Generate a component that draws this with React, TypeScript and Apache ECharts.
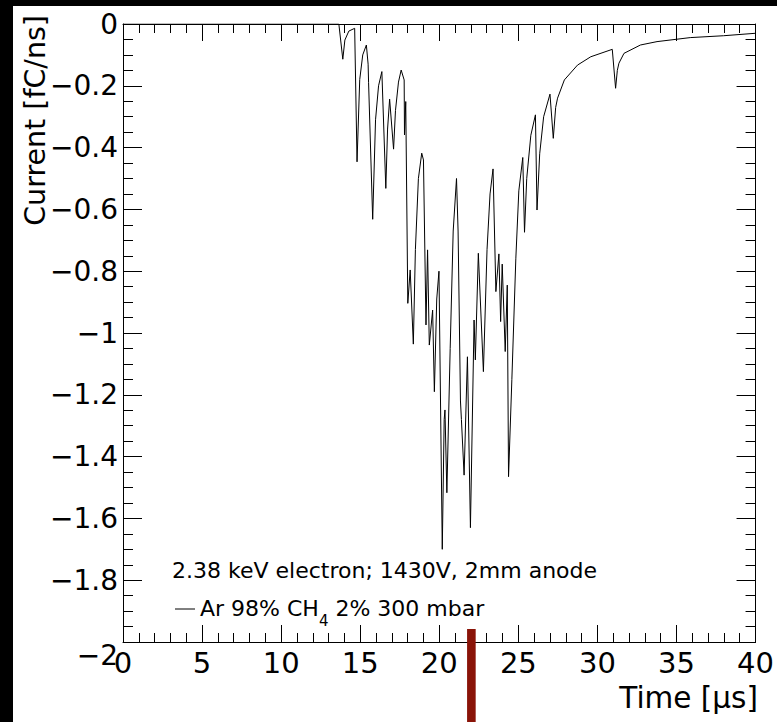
import React, { useEffect, useRef } from "react";
import * as echarts from "echarts";

// Time axis values [µs]
const timeUs = [
  0, 13.65, 13.9, 14.03, 14.28, 14.65, 14.8, 14.97, 15.16, 15.39, 15.5, 15.53,
  15.79, 15.97, 16.16, 16.37, 16.62, 16.73, 16.86, 17.11, 17.23, 17.42, 17.59,
  17.78, 17.8, 17.88, 18.01, 18.16, 18.36, 18.49, 18.68, 18.89, 19.0, 19.16,
  19.26, 19.37, 19.58, 19.69, 19.84, 19.98, 20.19, 20.31, 20.36, 20.48, 20.69,
  20.88, 21.09, 21.19, 21.34, 21.4, 21.57, 21.78, 21.97, 22.2, 22.28, 22.47,
  22.79, 23.02, 23.21, 23.4, 23.58, 23.77, 23.88, 23.98, 24.17, 24.3, 24.38,
  24.59, 24.84, 25.03, 25.28, 25.39, 25.53, 25.79, 26.08, 26.18, 26.35, 26.6,
  27.0, 27.21, 27.36, 27.48, 27.91, 28.74, 29.58, 30.94, 31.15, 31.26, 31.36,
  31.68, 32.72, 33.77, 35.87, 37.97, 40.0,
];

// Current values [fC/ns]
const currentFcNs = [
  0, 0, -0.114, -0.052, -0.023, -0.014, -0.446, -0.18, -0.1, -0.068, -0.13,
  -0.19, -0.632, -0.31, -0.2, -0.154, -0.532, -0.34, -0.243, -0.405, -0.28,
  -0.188, -0.149, -0.181, -0.359, -0.251, -0.904, -0.796, -1.036, -0.73, -0.5,
  -0.418, -0.44, -0.974, -0.731, -1.039, -0.926, -1.19, -0.89, -0.8, -1.7,
  -1.28, -1.249, -1.517, -1.05, -0.67, -0.5, -0.67, -1.22, -1.28, -1.46,
  -1.077, -1.63, -0.958, -1.087, -0.742, -1.125, -0.73, -0.55, -0.469, -0.866,
  -0.744, -0.963, -0.777, -1.06, -0.845, -1.465, -1.15, -0.76, -0.54, -0.432,
  -0.674, -0.5, -0.36, -0.294, -0.602, -0.42, -0.3, -0.227, -0.37, -0.27,
  -0.24, -0.181, -0.133, -0.106, -0.082, -0.208, -0.15, -0.127, -0.095,
  -0.068, -0.057, -0.044, -0.038, -0.03,
];

const xRange = [0, 40];
const xInterval = 5;
const yRange = [-2, 0];
const yInterval = 0.2;

const seriesName = "Ar 98% CH4 2% 300 mbar";
const legendRich = "{a|Ar 98% CH}{s|4}{a| 2% 300 mbar}";
const annotationText = "2.38 keV electron; 1430V, 2mm anode";
const xTitle = "Time [\u03bcs]";
const yTitle = "Current [fC/ns]";

// red marker bar (time, current at its top)
const markerTime = 22.03;
const markerCurrent = -1.958;

const FONT = "'DejaVu Sans', 'Liberation Sans', Arial, sans-serif";

export default function App() {
  const ref = useRef<HTMLDivElement>(null);

  useEffect(() => {
    if (!ref.current) return;
    const chart = echarts.init(ref.current, null, { renderer: "svg" });
    const data = timeUs.map((t, i) => [t, currentFcNs[i]]);

    const line = { color: "#000", width: 1 };
    const xBase = {
      type: "value",
      min: xRange[0],
      max: xRange[1],
      interval: xInterval,
      axisLine: { show: true, onZero: false, lineStyle: line },
      axisTick: { show: true, inside: true, length: 17, lineStyle: line },
      minorTick: { show: true, splitNumber: 5, length: 9, lineStyle: line },
      splitLine: { show: false },
      minorSplitLine: { show: false },
    };
    const yBase = {
      type: "value",
      min: yRange[0],
      max: yRange[1],
      interval: yInterval,
      axisLine: { show: true, onZero: false, lineStyle: line },
      axisTick: { show: true, inside: true, length: 19, lineStyle: line },
      minorTick: { show: true, splitNumber: 4, length: 10, lineStyle: line },
      splitLine: { show: false },
      minorSplitLine: { show: false },
    };

    const fmtY = (v: number) => {
      const r = Math.round(v * 10) / 10;
      if (r === 0) return "0";
      const s = "\u2212" + String(Math.abs(r));
      if (r === yRange[0]) return "{low|" + s + "}";
      return s;
    };

    chart.setOption({
      animation: false,
      backgroundColor: "#fff",
      grid: { left: 110, top: 18, right: 18, bottom: 80, containLabel: false },
      xAxis: [
        {
          ...xBase,
          position: "bottom",
          axisLabel: {
            color: "#000",
            fontSize: 29,
            fontFamily: FONT,
            margin: 6,
          },
        },
        { ...xBase, position: "top", axisLabel: { show: false } },
      ],
      yAxis: [
        {
          ...yBase,
          position: "left",
          axisLabel: {
            color: "#000",
            fontSize: 28,
            fontFamily: FONT,
            margin: 5,
            formatter: fmtY,
            rich: {
              low: { fontSize: 28, fontFamily: FONT, color: "#000", padding: [26, 0, 0, 0] },
            },
          },
        },
        { ...yBase, position: "right", axisLabel: { show: false } },
      ],
      series: [
        {
          name: seriesName,
          type: "line",
          xAxisIndex: 0,
          yAxisIndex: 0,
          data,
          symbol: "none",
          showSymbol: false,
          lineStyle: { color: "#000", width: 1 },
          itemStyle: { color: "#000" },
          clip: true,
          z: 3,
        },
      ],
    });

    const p = chart.convertToPixel({ gridIndex: 0 }, [markerTime, markerCurrent]) as number[];
    const h = chart.getHeight();

    const txt = (text: string, x: number, y: number, size: number, align: string, extra: any = {}) => ({
      type: "text",
      x,
      y,
      ...extra,
      style: {
        text,
        fill: "#000",
        fontSize: size,
        fontFamily: FONT,
        align,
        textAlign: align,
        verticalAlign: "middle",
        textVerticalAlign: "middle",
      },
    });

    chart.setOption({
      graphic: [
        txt(yTitle, 22, 9, 28.5, "right", { rotation: Math.PI / 2 }),
        txt(xTitle, 745, 692, 29.5, "right"),
        txt(annotationText, 159, 564, 22, "left"),
        {
          type: "line",
          shape: { x1: 162, y1: 603, x2: 182, y2: 603 },
          style: { stroke: "#000", lineWidth: 1 },
        },
        {
          type: "text",
          x: 187,
          y: 602,
          style: {
            text: legendRich,
            fill: "#000",
            fontSize: 22,
            fontFamily: FONT,
            align: "left",
            textAlign: "left",
            verticalAlign: "middle",
            textVerticalAlign: "middle",
            rich: {
              a: { fontSize: 22, fontFamily: FONT, fill: "#000", color: "#000", lineHeight: 40, verticalAlign: "middle" },
              s: { fontSize: 15, fontFamily: FONT, fill: "#000", color: "#000", lineHeight: 40, verticalAlign: "bottom" },
            },
          },
        },
        {
          type: "rect",
          z: 100,
          shape: { x: p[0] - 4.3, y: p[1], width: 8.6, height: h - p[1] },
          style: { fill: "#8a1408" },
        },
      ],
    });

    return () => chart.dispose();
  }, []);

  return (
    <div
      style={{
        position: "fixed",
        left: 0,
        top: 0,
        width: 777,
        height: 722,
        background: "#000",
        overflow: "hidden",
      }}
    >
      <div
        ref={ref}
        style={{
          position: "absolute",
          left: 13,
          top: 6,
          width: 764,
          height: 716,
          background: "#fff",
        }}
      />
    </div>
  );
}
